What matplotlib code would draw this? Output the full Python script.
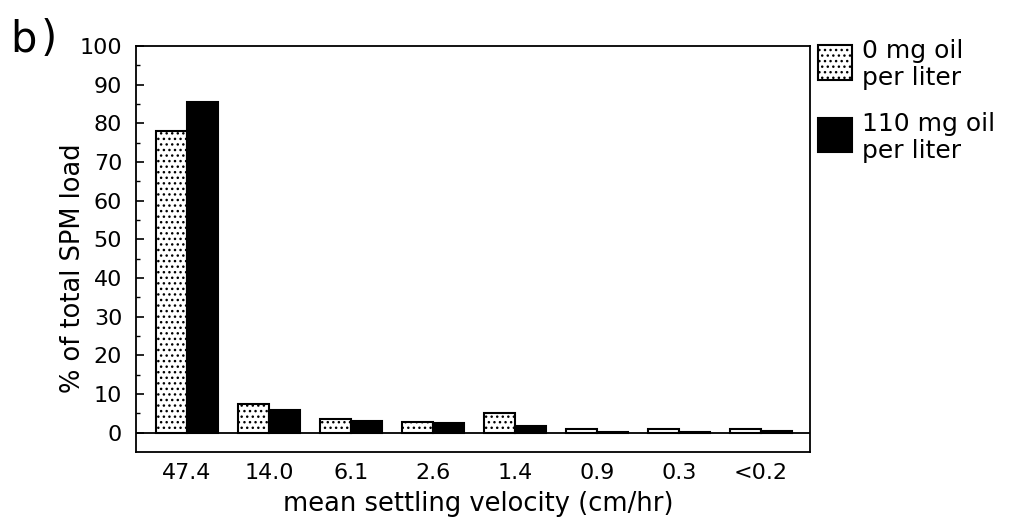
import numpy as np
import matplotlib.pyplot as plt
from matplotlib.patches import Rectangle

# data
velocity = ['47.4', '14.0', '6.1', '2.6', '1.4', '0.9', '0.3', '<0.2']
oil0 = [78.0, 7.5, 3.6, 2.7, 5.1, 1.0, 1.0, 1.0]
oil110 = [85.5, 5.8, 3.1, 2.5, 1.8, 0.1, 0.3, 0.5]

plt.rcParams['font.family'] = ['DejaVu Sans']
plt.rcParams['hatch.linewidth'] = 1.0

fig = plt.figure(figsize=(10.1, 5.21), dpi=100)
ax = fig.add_axes([0.1347, 0.1324, 0.6673, 0.7793])

x = np.arange(len(velocity))
w = 0.38
ax.bar(x - w/2, oil0, w, color='white', edgecolor='black', hatch='...', linewidth=1.5)
ax.bar(x + w/2, oil110, w, color='black', edgecolor='black', linewidth=1.5)
ax.axhline(0, color='black', lw=1.3)

ax.set_xlim(-0.62, 7.6)
ax.set_ylim(-5, 100)
ax.set_yticks(np.arange(0, 101, 10))
ax.set_yticks(np.arange(5, 100, 10), minor=True)
ax.set_xticks(x)
ax.set_xticklabels(velocity)
ax.tick_params(axis='y', direction='in', length=6, width=1.2, labelsize=16, pad=10)
ax.tick_params(axis='y', which='minor', direction='in', length=3, width=1)
ax.tick_params(axis='x', length=0, labelsize=16, pad=8)
for s in ax.spines.values():
    s.set_linewidth(1.3)

ax.set_ylabel('% of total SPM load', fontsize=18.5)
ax.yaxis.set_label_coords(-0.074, 0.453)
ax.set_xlabel('mean settling velocity (cm/hr)', fontsize=18.5)
ax.xaxis.set_label_coords(0.507, -0.095)

fig.text(0.010, 0.925, 'b', fontsize=30, va='center', ha='left')
fig.text(0.040, 0.925, ')', fontsize=30, va='center', ha='left')

# legend
fig.patches.append(Rectangle((0.810, 0.846), 0.034, 0.067, transform=fig.transFigure,
                             facecolor='white', edgecolor='black', hatch='...', lw=1.5))
fig.patches.append(Rectangle((0.810, 0.708), 0.034, 0.065, transform=fig.transFigure,
                             facecolor='black', edgecolor='black', lw=1.5))
fig.text(0.853, 0.876, '0 mg oil\nper liter', fontsize=18, va='center', ha='left', linespacing=1.15)
fig.text(0.853, 0.736, '110 mg oil\nper liter', fontsize=18, va='center', ha='left', linespacing=1.15)

fig.savefig('out.png', dpi=100)
